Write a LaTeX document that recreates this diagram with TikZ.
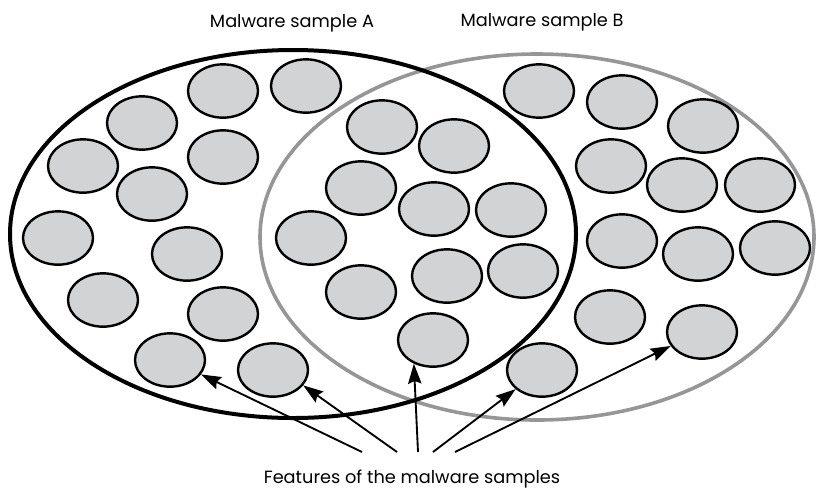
\documentclass[tikz,border=0pt]{standalone}
\usepackage{fontspec}
\setmainfont{Poppins}
\usetikzlibrary{shapes.geometric,arrows.meta}

\definecolor{featfill}{RGB}{209,211,212}
\definecolor{setgray}{RGB}{150,150,153}

\tikzset{
  feature/.style={ellipse, draw, line width=1.8pt, fill=featfill,
    minimum width=52.5pt, minimum height=40pt, inner sep=0pt},
  pointer/.style={-{Stealth[length=15pt,width=10pt,inset=2pt]}, line width=1.4pt},
  caption/.style={font=\fontsize{13.3}{15}\selectfont}
}

\begin{document}
\begin{tikzpicture}[x=0.75pt, y=-0.75pt]
    \useasboundingbox (0,0) rectangle (816,490);

    % the two samples
    \draw[setgray, line width=2.7pt] (537,237) ellipse [x radius=277, y radius=183];
    \draw[line width=3pt] (293,234) ellipse [x radius=283, y radius=184];

    \node[caption] (labA) at (292,23) {Malware sample A};
    \node[caption] (labB) at (542,22) {Malware sample B};

    % features only in A
    \foreach \x/\y [count=\i] in {223/91, 306/86, 142/123, 223/157, 83/166, 152/194,
        58/238, 187/254, 103/300, 223/314, 170/360, 273/370}
      \node[feature] (a\i) at (\x,\y) {};
    % shared features
    \foreach \x/\y [count=\i] in {382/127, 454/146, 361/188, 434/209, 511/210,
        311/238, 447/276, 523/271, 361/292, 433/340}
      \node[feature] (ab\i) at (\x,\y) {};
    % features only in B
    \foreach \x/\y [count=\i] in {539/91, 622/102, 703/126, 611/166, 682/185, 760/185,
        622/241, 698/254, 775/248, 610/317, 702/332, 542/370}
      \node[feature] (b\i) at (\x,\y) {};

    \node[caption] (feat) at (412,479) {Features of the malware samples};

    \coordinate (f1) at (362,452);
    \coordinate (f2) at (397,452);
    \coordinate (f3) at (418,452);
    \coordinate (f4) at (433,452);
    \coordinate (f5) at (455,452);

    \draw[pointer] (f1) -- (a11.-25);
    \draw[pointer] (f2) -- (a12.-27);
    \draw[pointer] (f3) -- (ab10.231);
    \draw[pointer] (f4) -- (b12.216);
    \draw[pointer] (f5) -- (b11.204);
  \end{tikzpicture}
\end{document}
